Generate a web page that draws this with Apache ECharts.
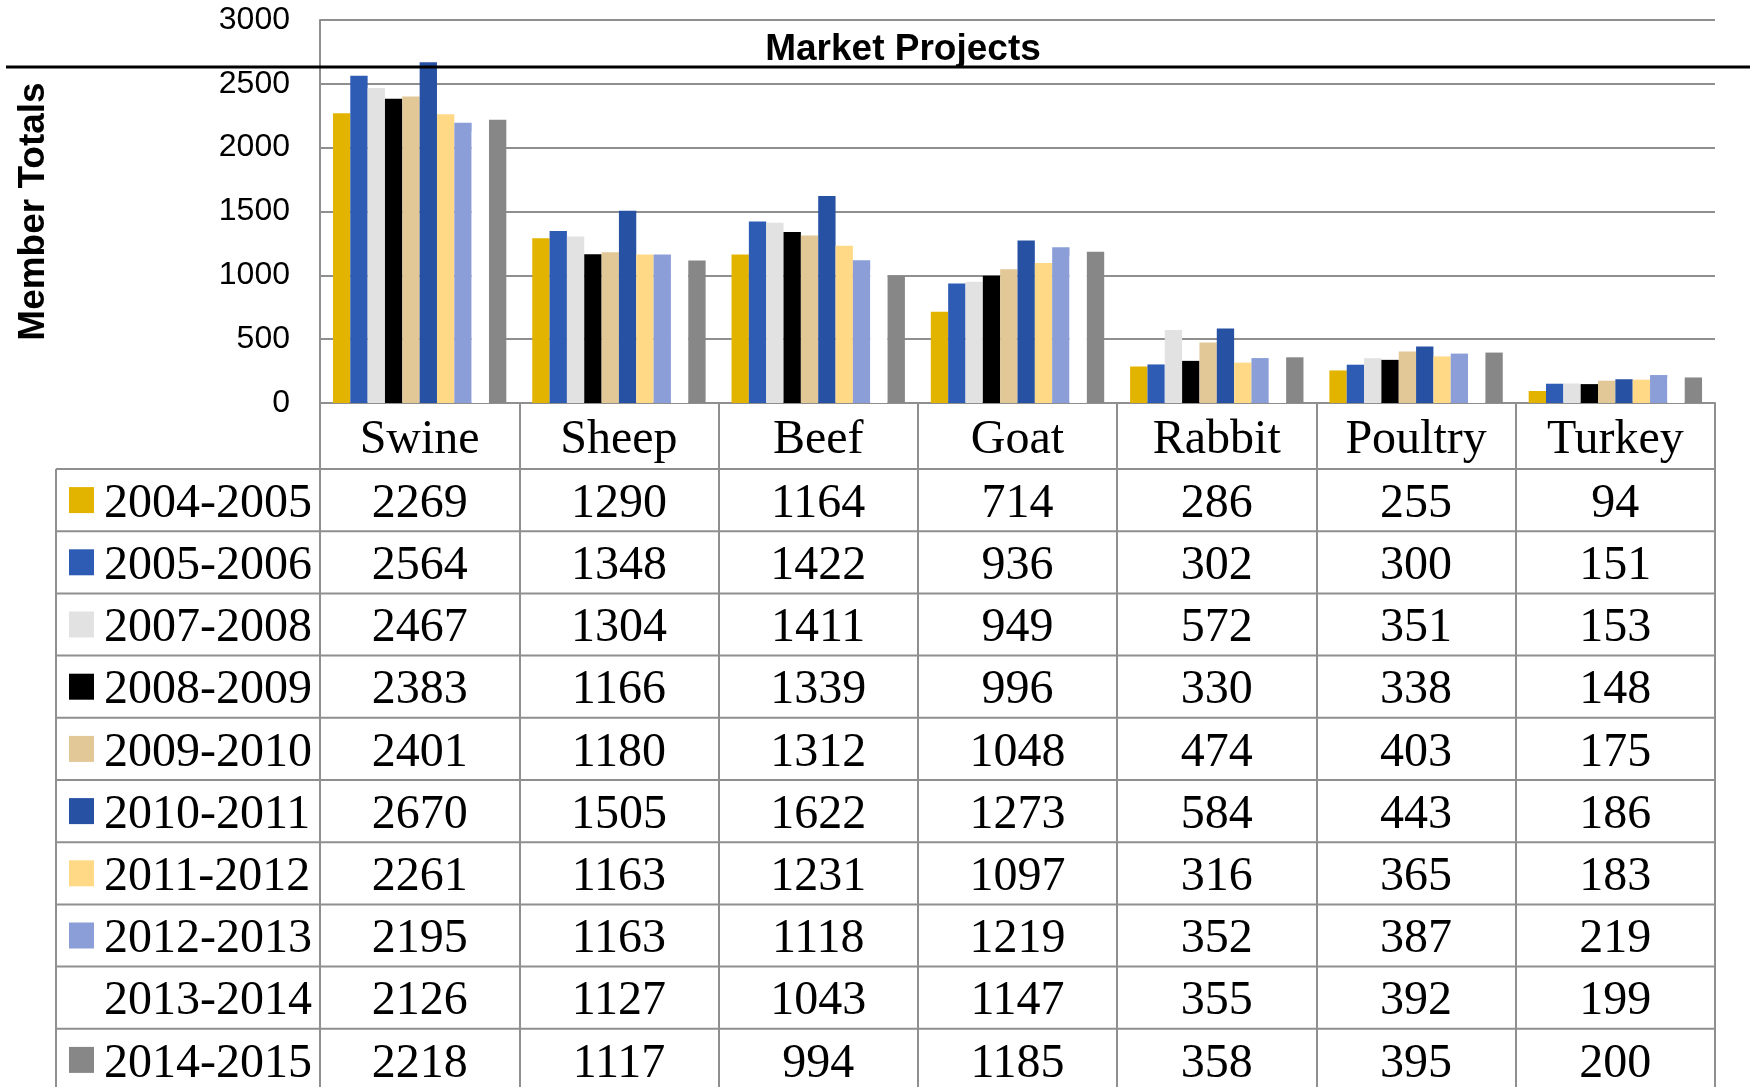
<!DOCTYPE html>
<html>
<head>
<meta charset="utf-8">
<script src="https://cdn.jsdelivr.net/npm/echarts@6/dist/echarts.min.js"></script>
<style>
  html, body { margin: 0; padding: 0; background: #fff; }
  #chart { width: 1750px; height: 1087px; }
</style>
</head>
<body>
<div id="chart"></div>
<script>
// categories and season labels
var categories = ['Swine', 'Sheep', 'Beef', 'Goat', 'Rabbit', 'Poultry', 'Turkey'];
var seasons = ['2004-2005', '2005-2006', '2007-2008', '2008-2009', '2009-2010',
  '2010-2011', '2011-2012', '2012-2013', '2013-2014', '2014-2015'];
var yTicks = [0, 500, 1000, 1500, 2000, 2500, 3000];

// member totals per season
var s2004 = [2269, 1290, 1164, 714, 286, 255, 94];
var s2005 = [2564, 1348, 1422, 936, 302, 300, 151];
var s2007 = [2467, 1304, 1411, 949, 572, 351, 153];
var s2008 = [2383, 1166, 1339, 996, 330, 338, 148];
var s2009 = [2401, 1180, 1312, 1048, 474, 403, 175];
var s2010 = [2670, 1505, 1622, 1273, 584, 443, 186];
var s2011 = [2261, 1163, 1231, 1097, 316, 365, 183];
var s2012 = [2195, 1163, 1118, 1219, 352, 387, 219];
var s2013 = [2126, 1127, 1043, 1147, 355, 392, 199];
var s2014 = [2218, 1117, 994, 1185, 358, 395, 200];

var values = [s2004, s2005, s2007, s2008, s2009, s2010, s2011, s2012, s2013, s2014];
var colors = ['#E2B400', '#2E5BB4', '#E2E2E2', '#000000', '#E2C896',
  '#2752A4', '#FFD985', '#8B9ED8', '#FFFFFF', '#878787'];

var gridColor = '#8f8f8f';
var serif = '"Liberation Serif", "Times New Roman", serif';
var sans = '"Liberation Sans", Arial, sans-serif';

var chart = echarts.init(document.getElementById('chart'));

var series = seasons.map(function (name, i) {
  return {
    name: name,
    type: 'bar',
    data: values[i],
    barGap: '0%',
    barCategoryGap: '13%',
    itemStyle: { color: colors[i] },
    z: 2
  };
});

chart.setOption({
  animation: false,
  backgroundColor: '#fff',
  title: {
    text: 'Market Projects',
    left: 903,
    top: 31,
    padding: 0,
    textAlign: 'center',
    textStyle: { fontFamily: sans, fontWeight: 'bold', fontSize: 37, color: '#000' }
  },
  grid: { left: 320, right: 35, top: 20, height: 383 },
  xAxis: {
    type: 'category',
    data: categories,
    axisLine: { show: true, lineStyle: { color: gridColor, width: 2 } },
    axisTick: { show: true, interval: 0, length: 690, lineStyle: { color: gridColor, width: 2 } },
    axisLabel: {
      interval: 0, margin: 37, verticalAlign: 'middle',
      fontFamily: serif, fontSize: 48, color: '#000'
    }
  },
  yAxis: {
    type: 'value',
    min: 0,
    max: yTicks[yTicks.length - 1],
    interval: 500,
    name: 'Member Totals',
    nameLocation: 'middle',
    nameGap: 268,
    nameTextStyle: { fontFamily: sans, fontWeight: 'bold', fontSize: 37, color: '#000' },
    axisLine: { show: true, lineStyle: { color: gridColor, width: 2 } },
    axisTick: { show: false },
    axisLabel: {
      margin: 30, fontFamily: sans, fontSize: 32, color: '#000',
      padding: [4, 0, 0, 0],
      formatter: function (v) { return String(v); }
    },
    splitLine: { show: true, lineStyle: { color: gridColor, width: 2 } }
  },
  series: series
});

// data table under the plot
var tableLeft = 56, tableRight = 1715, rowTop = 469, rowH = 62.2;
var graphics = [];
graphics.push({
  type: 'line', z: 100,
  shape: { x1: 6, y1: 67, x2: 1750, y2: 67 },
  style: { stroke: '#000', lineWidth: 3 }
});
graphics.push({
  type: 'line', z: 10,
  shape: { x1: tableLeft, y1: rowTop, x2: tableLeft, y2: 1087 },
  style: { stroke: gridColor, lineWidth: 2 }
});
seasons.forEach(function (name, i) {
  var y = rowTop + i * rowH;
  var cy = y + rowH / 2;
  graphics.push({
    type: 'line', z: 10,
    shape: { x1: tableLeft, y1: y, x2: tableRight, y2: y },
    style: { stroke: gridColor, lineWidth: 2 }
  });
  graphics.push({
    type: 'rect', z: 10,
    shape: { x: 69, y: cy - 13, width: 25, height: 26 },
    style: { fill: colors[i] }
  });
  graphics.push({
    type: 'text', z: 10,
    style: {
      text: name, x: 104, y: cy + 4, align: 'left', verticalAlign: 'middle',
      font: '48px ' + serif, fill: '#000'
    }
  });
  values[i].forEach(function (v, j) {
    var cx = chart.convertToPixel({ xAxisIndex: 0 }, categories[j]);
    graphics.push({
      type: 'text', z: 10,
      style: {
        text: String(v), x: cx, y: cy + 4, align: 'center', verticalAlign: 'middle',
        font: '48px ' + serif, fill: '#000'
      }
    });
  });
});
chart.setOption({ graphic: graphics });
</script>
</body>
</html>
